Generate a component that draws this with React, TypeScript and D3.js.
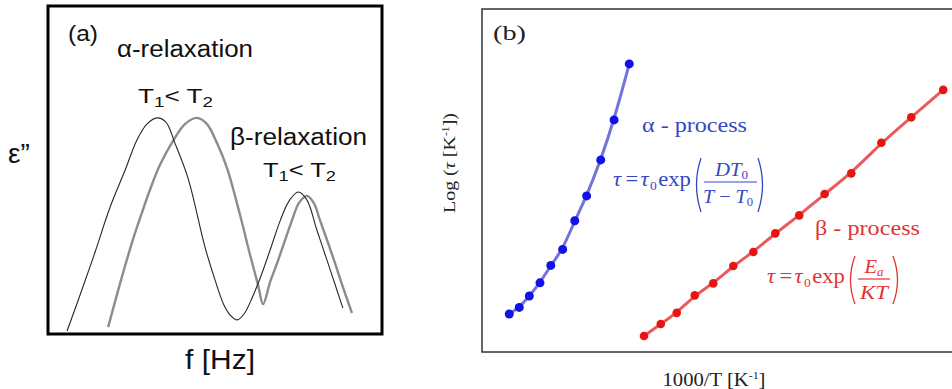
import React from "react";
import * as d3 from "d3";

// ---------- Panel (a): dielectric loss spectra (x: log f, %, y: ε'' %) ----------
const alphaT1X = [5.7, 9.6, 14.1, 18.6, 23.1, 26.6, 29.6, 32.6, 35.3, 38.0, 41.9, 47.0, 50.0, 52.7, 54.8, 56.6, 58.7, 61.1, 63.5, 66.5, 69.5, 72.2, 74.9, 77.5, 80.5, 83.5, 86.5, 88.3];
const alphaT1Y = [0.9, 11.9, 25.0, 38.7, 50.0, 59.1, 64.0, 65.9, 64.6, 58.2, 47.6, 26.5, 16.5, 8.8, 5.5, 4.3, 6.1, 11.0, 17.0, 25.6, 34.5, 40.6, 43.3, 40.9, 31.7, 22.6, 13.4, 7.9];
const alphaT2X = [18.0, 21.6, 25.4, 28.1, 30.5, 33.5, 37.4, 41.0, 44.6, 47.6, 50.6, 53.6, 57.5, 60.5, 62.9, 64.4, 66.5, 68.6, 71.0, 73.1, 75.1, 77.5, 79.6, 81.4, 85.3, 88.3, 91.0];
const alphaT2Y = [2.1, 15.5, 28.7, 36.9, 43.9, 51.5, 58.8, 64.0, 65.9, 64.0, 58.2, 50.6, 36.3, 24.1, 14.9, 9.1, 15.9, 21.6, 28.7, 34.8, 39.9, 42.1, 39.9, 34.8, 23.5, 14.3, 6.4];

// ---------- Panel (b): relaxation map (x: 1000/T, y: log τ) ----------
const alphaInvT = [2.174, 2.238, 2.302, 2.370, 2.439, 2.515, 2.592, 2.668, 2.758, 2.843, 2.940];
const alphaLogTau = [-7.67, -7.44, -7.04, -6.58, -5.97, -5.41, -4.41, -3.54, -2.28, -0.88, 1.08];
const betaInvT = [3.034, 3.141, 3.243, 3.358, 3.476, 3.604, 3.732, 3.872, 4.025, 4.187, 4.357, 4.549, 4.740, 4.944];
const betaLogTau = [-8.44, -8.02, -7.63, -7.02, -6.60, -5.99, -5.50, -4.85, -4.22, -3.47, -2.75, -1.68, -0.79, 0.17];

const SANS = "'Liberation Sans', Arial, sans-serif";
const SERIF = "'Liberation Serif', 'Times New Roman', serif";
const BLUE = "#3448c4";
const RED = "#e23232";

function Paren({ x, y0, y1, dir, color }: { x: number; y0: number; y1: number; dir: number; color: string }) {
  const mid = (y0 + y1) / 2;
  const bulge = x - dir * 9;
  return (
    <path
      d={`M${x},${y0} Q${bulge},${mid} ${x},${y1}`}
      fill="none"
      stroke={color}
      strokeWidth={1.3}
    />
  );
}

// "τ = τ0 exp" drawn at natural size then stretched horizontally like the source image
function Lhs({ x, y, color }: { x: number; y: number; color: string }) {
  return (
    <g transform={`translate(${x},${y}) scale(1.13,1)`} fontFamily={SERIF} fill={color}>
      <text x={0} y={0} fontSize={20} fontStyle="italic">τ</text>
      <text x={11} y={0} fontSize={20}>=</text>
      <text x={24.4} y={0} fontSize={20} fontStyle="italic">τ</text>
      <text x={32.8} y={4} fontSize={12}>0</text>
      <text x={40} y={0} fontSize={20}>exp</text>
    </g>
  );
}

export default function App() {
  // panel (a) scales
  const xA = d3.scaleLinear().domain([0, 100]).range([48, 382]);
  const yA = d3.scaleLinear().domain([0, 100]).range([334, 6]);
  const lineA = d3
    .line<[number, number]>()
    .x((d) => xA(d[0]))
    .y((d) => yA(d[1]))
    .curve(d3.curveCatmullRom.alpha(0.5));
  const t1 = alphaT1X.map((x, i) => [x, alphaT1Y[i]] as [number, number]);
  const t2 = alphaT2X.map((x, i) => [x, alphaT2Y[i]] as [number, number]);

  // panel (b) scales
  const xB = d3.scaleLinear().domain([2.0, 5.0]).range([482, 952]);
  const yB = d3.scaleLinear().domain([-9, 3]).range([352, 9]);
  const lineB = d3
    .line<[number, number]>()
    .x((d) => xB(d[0]))
    .y((d) => yB(d[1]))
    .curve(d3.curveBasis);
  const aPts = alphaInvT.map((x, i) => [x, alphaLogTau[i]] as [number, number]);
  const bPts = betaInvT.map((x, i) => [x, betaLogTau[i]] as [number, number]);

  return (
    <svg
      width={952}
      height={389}
      style={{ position: "absolute", left: 0, top: 0, background: "#fff" }}
    >
      <rect x={0} y={0} width={952} height={389} fill="#fff" />
      {/* ---------------- Panel (a) ---------------- */}
      <rect x={48} y={6} width={334} height={328} fill="none" stroke="#000" strokeWidth={3} />
      <path d={lineA(t2) || ""} fill="none" stroke="#8c8c8c" strokeWidth={2.4} />
      <path d={lineA(t1) || ""} fill="none" stroke="#262626" strokeWidth={1.1} />

      <text x={68} y={41} fontFamily={SANS} fontSize={22} fill="#111" textLength={30} lengthAdjust="spacingAndGlyphs">(a)</text>
      <text x={117} y={57} fontFamily={SANS} fontSize={23} fill="#111" textLength={136} lengthAdjust="spacingAndGlyphs">
        α-relaxation
      </text>
      <text x={138} y={103} fontFamily={SANS} fontSize={21} fill="#111" textLength={75} lengthAdjust="spacingAndGlyphs">
        T<tspan fontSize={15} dy={4}>1</tspan>
        <tspan dy={-4}>{"< T"}</tspan>
        <tspan fontSize={15} dy={4}>2</tspan>
      </text>
      <text x={230} y={145} fontFamily={SANS} fontSize={23} fill="#111" textLength={137} lengthAdjust="spacingAndGlyphs">
        β-relaxation
      </text>
      <text x={263} y={177} fontFamily={SANS} fontSize={21} fill="#111" textLength={73} lengthAdjust="spacingAndGlyphs">
        T<tspan fontSize={15} dy={4}>1</tspan>
        <tspan dy={-4}>{"< T"}</tspan>
        <tspan fontSize={15} dy={4}>2</tspan>
      </text>
      <text x={8} y={163} fontFamily={SANS} fontSize={28} fill="#111">ε”</text>
      <text x={185} y={369} fontFamily={SANS} fontSize={28} fill="#111" textLength={70} lengthAdjust="spacingAndGlyphs">
        f [Hz]
      </text>

      {/* ---------------- Panel (b) ---------------- */}
      <rect x={482} y={9} width={480} height={343} fill="none" stroke="#333" strokeWidth={1.5} />
      <text x={493} y={40} fontFamily={SERIF} fontSize={22} fill="#222" textLength={33} lengthAdjust="spacingAndGlyphs">(b)</text>

      <path d={lineB(aPts) || ""} fill="none" stroke="#5a5ad6" strokeWidth={3} strokeOpacity={0.85} />
      {aPts.map((d, i) => (
        <circle key={"a" + i} cx={xB(d[0])} cy={yB(d[1])} r={4.5} fill="#1212e6" />
      ))}
      <path d={lineB(bPts) || ""} fill="none" stroke="#e84848" strokeWidth={3} strokeOpacity={0.9} />
      {bPts.map((d, i) => (
        <circle key={"b" + i} cx={xB(d[0])} cy={yB(d[1])} r={4.3} fill="#e81414" />
      ))}

      {/* α annotation */}
      <text x={642} y={132} fontFamily={SERIF} fontSize={21} fill={BLUE} textLength={105} lengthAdjust="spacingAndGlyphs">
        α - process
      </text>
      <Lhs x={613} y={186} color={BLUE} />
      <Paren x={701} y0={158} y1={212} dir={1} color={BLUE} />
      <text x={731.5} y={176} textAnchor="middle" fontFamily={SERIF} fontSize={19} fill={BLUE} textLength={33} lengthAdjust="spacingAndGlyphs">
        <tspan fontStyle="italic">DT</tspan>
        <tspan fontSize={12} dy={3}>0</tspan>
      </text>
      <line x1={704} x2={757} y1={182} y2={182} stroke={BLUE} strokeWidth={1.2} />
      <text x={728} y={203} textAnchor="middle" fontFamily={SERIF} fontSize={19} fill={BLUE} textLength={50} lengthAdjust="spacingAndGlyphs">
        <tspan fontStyle="italic">T</tspan>
        <tspan> − </tspan>
        <tspan fontStyle="italic">T</tspan>
        <tspan fontSize={12} dy={3}>0</tspan>
      </text>
      <Paren x={758} y0={158} y1={212} dir={-1} color={BLUE} />

      {/* β annotation */}
      <text x={815} y={235} fontFamily={SERIF} fontSize={21} fill={RED} textLength={105} lengthAdjust="spacingAndGlyphs">
        β - process
      </text>
      <Lhs x={767} y={283} color={RED} />
      <Paren x={855} y0={256} y1={304} dir={1} color={RED} />
      <text x={874} y={273} textAnchor="middle" fontFamily={SERIF} fontSize={19} fill={RED} textLength={19} lengthAdjust="spacingAndGlyphs">
        <tspan fontStyle="italic">E</tspan>
        <tspan fontSize={12} fontStyle="italic" dy={3}>a</tspan>
      </text>
      <line x1={858} x2={890} y1={279} y2={279} stroke={RED} strokeWidth={1.2} />
      <text x={874} y={299} textAnchor="middle" fontFamily={SERIF} fontSize={19} fontStyle="italic" fill={RED} textLength={28} lengthAdjust="spacingAndGlyphs">
        KT
      </text>
      <Paren x={893} y0={256} y1={304} dir={-1} color={RED} />

      {/* axis titles */}
      <text x={714} y={386} textAnchor="middle" fontFamily={SERIF} fontSize={19} fill="#222" textLength={103} lengthAdjust="spacingAndGlyphs">
        1000/T [K<tspan fontSize={11} dy={-7}>-1</tspan>
        <tspan dy={7}>]</tspan>
      </text>
      <text
        transform="translate(455,163) rotate(-90)"
        textAnchor="middle"
        fontFamily={SERIF}
        fontSize={17}
        fill="#222"
        textLength={100}
        lengthAdjust="spacingAndGlyphs"
      >
        Log (<tspan fontStyle="italic">τ</tspan> [K<tspan fontSize={10} dy={-6}>-1</tspan>
        <tspan dy={6}>])</tspan>
      </text>
    </svg>
  );
}
